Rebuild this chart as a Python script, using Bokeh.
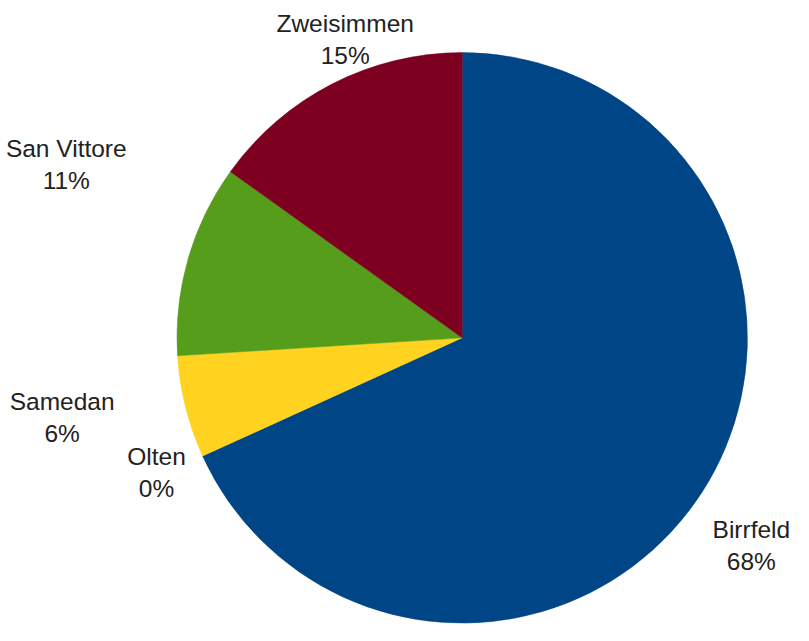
import math
from bokeh.plotting import figure
from bokeh.models import Range1d, ColumnDataSource
from bokeh.embed import file_html
from bokeh.resources import INLINE
from bokeh.core.properties import value

# ---- data ----
names = ["Birrfeld", "Olten", "Samedan", "San Vittore", "Zweisimmen"]
shares = [68.2, 0.0, 5.8, 10.9, 15.1]
colors = ["#004586", "#ff420e", "#ffd320", "#579d1c", "#7e0021"]

# ---- layout (in reference pixel space 809 x 641) ----
RW, RH = 809, 641
W, H = 793, 625
cx, cy = 471.0, RH - 346.0
R = 291.0
# label placement relative to pie centre: (angle in degrees, distance as fraction of radius)
label_polar = [(325.3, 1.233), (202.5, 1.160), (190.2, 1.425), (155.2, 1.529), (110.8, 1.155)]

total = sum(shares)
starts, ends, keep = [], [], []
acc = 0.0
for i, s in enumerate(shares):
    a0 = math.pi / 2 - 2 * math.pi * acc / total
    acc += s
    a1 = math.pi / 2 - 2 * math.pi * acc / total
    if s > 0:
        keep.append(i)
        starts.append(a1)
        ends.append(a0)

src = ColumnDataSource(dict(name=[names[i] for i in keep], start=starts, end=ends,
                            color=[colors[i] for i in keep],
                            x=[cx] * len(keep), y=[cy] * len(keep)))

p = figure(width=W, height=H, output_backend="svg", toolbar_location=None,
           x_range=Range1d(0, RW), y_range=Range1d(0, RH), min_border=0)
p.axis.visible = False
p.grid.visible = False
p.outline_line_color = None
p.background_fill_color = "white"

p.wedge(x="x", y="y", radius=R, start_angle="start", end_angle="end",
        fill_color="color", line_color="color", line_width=0.5, source=src)

lx, ly, pct = [], [], []
for (ang, f), s in zip(label_polar, shares):
    a = math.radians(ang)
    lx.append(cx + f * R * math.cos(a))
    ly.append(cy + f * R * math.sin(a))
    pct.append(f"{round(s / total * 100):d}%")

lab = ColumnDataSource(dict(x=lx, yn=[v + 8 for v in ly], yp=[v - 25 for v in ly],
                            name=names, pct=pct))
common = dict(text_font=value("Liberation Sans"), text_font_size="24.5px",
              text_color="#222222", text_align="center", text_baseline="alphabetic",
              source=lab)
p.text(x="x", y="yn", text="name", **common)
p.text(x="x", y="yp", text="pct", **common)

open("out.html", "w").write(file_html(p, INLINE))
